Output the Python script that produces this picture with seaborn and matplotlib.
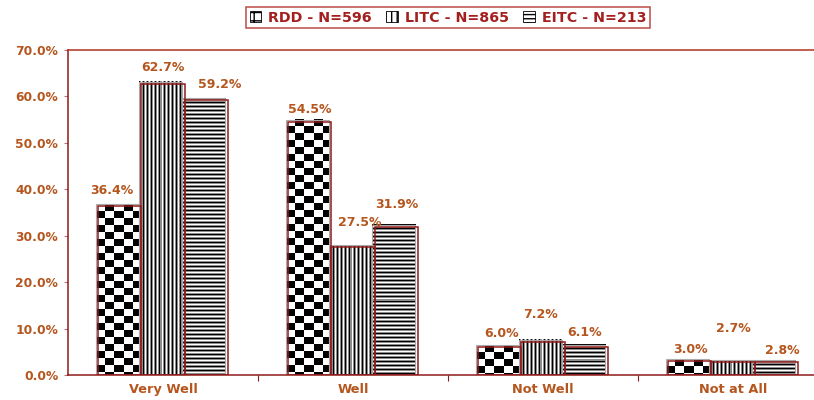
import numpy as np
import pandas as pd
import seaborn as sns
import matplotlib.pyplot as plt
from matplotlib.patches import Patch, Rectangle

categories = ["Very Well", "Well", "Not Well", "Not at All"]
groups = ["RDD - N=596", "LITC - N=865", "EITC - N=213"]
rdd = [36.4, 54.5, 6.0, 3.0]
litc = [62.7, 27.5, 7.2, 2.7]
eitc = [59.2, 31.9, 6.1, 2.8]
yticks = [0, 10, 20, 30, 40, 50, 60, 70]

# label nudges in pixels (x shift, lift above bar top) as excel placed them
lab_dx = [[-8, 0, 2, 1], [0, 7, -2, 0], [14, 1, -2, 6]]
lab_lift = [[16, 12, 14, 12], [16, 25, 27, 34], [16, 22, 14, 12]]

ORANGE = '#B5561E'
DARKRED = '#8E1B1B'
LEGRED = '#A3201F'

df = pd.DataFrame({
    'cat': categories * 3,
    'grp': np.repeat(groups, 4),
    'val': rdd + litc + eitc,
})

sns.set_style('white')
plt.rcParams['font.family'] = 'DejaVu Sans'

fig = plt.figure(figsize=(8.14, 4.0), dpi=100)
ax = fig.add_axes([68/814, 25/400, 760/814, 325/400])
sns.barplot(data=df, x='cat', y='val', hue='grp', order=categories, hue_order=groups,
            palette=['white']*3, width=0.68, edgecolor=DARKRED, linewidth=1.1,
            errorbar=None, legend=False, ax=ax)
ax.set_xlim(-0.5, 3.5)
ax.set_ylim(0, 70)


# pixel textures: checker, vertical stripes, horizontal stripes
def checker(h, w):
    yy, xx = np.mgrid[0:h, 0:w]
    return ((xx // 9 + yy // 7 + 1) % 2).astype(float)

def vstripes(h, w):
    row = np.array([0.0, 0.55, 1.0, 0.55])[np.arange(w) % 4]
    return np.tile(row, (h, 1))

def hstripes(h, w):
    col = np.array([0.0, 0.55, 1.0, 0.55])[np.arange(h) % 4]
    return np.tile(col[:, None], (1, w))

makers = [checker, vstripes, hstripes]
inv = ax.transData.inverted()

for i, cont in enumerate(ax.containers):
    for j, bar in enumerate(cont):
        x0, w, h = bar.get_x(), bar.get_width(), bar.get_height()
        (px0, py0), (px1, py1) = ax.transData.transform([(x0, 0), (x0 + w, h)])
        px0 -= 2.5
        px1 -= 2.5
        py1 += 2
        nw, nh = int(round(px1 - px0)), int(round(py1 - py0))
        tex = makers[i](nh, nw)
        (dx0, dy0), (dx1, dy1) = inv.transform([(px0, py0), (px1, py1)])
        ax.imshow(tex, cmap='gray', vmin=0, vmax=1, extent=(dx0, dx1, dy0, dy1),
                  aspect='auto', interpolation='nearest', zorder=1)
        ax.add_patch(Rectangle((dx0, dy0), dx1 - dx0, dy1 - dy0, fill=False,
                               edgecolor='#AAAAAA', lw=0.8, zorder=1.5))
        bar.set_facecolor('none')
        bar.set_zorder(3)
        ax.annotate(f'{h:.1f}%', (x0 + w/2, h), xytext=(lab_dx[i][j], lab_lift[i][j]),
                    textcoords='offset pixels', ha='center', va='center',
                    color=ORANGE, fontweight='bold', fontsize=9)

ax.set_xlim(-0.5, 3.5)
ax.set_ylim(0, 70)

ax.set_yticks(yticks)
ax.set_yticklabels([f'{v:.1f}%' for v in yticks], fontweight='bold', fontsize=8.8)
ax.set_xticks(range(len(categories)))
ax.set_xticklabels(categories, fontweight='bold', fontsize=9.3)
ax.set_xticks([0.5, 1.5, 2.5], minor=True)
ax.set_xlabel('')
ax.set_ylabel('')

ax.tick_params(axis='y', left=True, direction='out', length=3, width=0.8,
               color='#C07070', pad=4, labelcolor=ORANGE)
ax.tick_params(axis='x', which='major', bottom=True, length=0, pad=6, labelcolor=ORANGE)
ax.tick_params(axis='x', which='minor', bottom=True, direction='out', length=4,
               width=0.8, color=DARKRED)

for s in ['left', 'bottom']:
    ax.spines[s].set_color(DARKRED)
    ax.spines[s].set_linewidth(1.1)
ax.spines['top'].set_color('#B2321F')
ax.spines['top'].set_linewidth(1.1)
ax.spines['right'].set_visible(False)

handles = [Patch(facecolor='white', edgecolor='black', hatch=ht, lw=0.6)
           for ht in ['++', '|||', '----']]
leg = fig.legend(handles, groups, loc='center', bbox_to_anchor=(448/814, 1 - 17.5/400),
                 ncol=3, frameon=True, fancybox=False, edgecolor='#B0302A',
                 handlelength=0.8, handleheight=0.7, handletextpad=0.5,
                 columnspacing=1.0, borderpad=0.25, borderaxespad=0,
                 prop={'weight': 'bold', 'size': 10.3})
leg.get_frame().set_linewidth(1.2)
for t in leg.get_texts():
    t.set_color(LEGRED)

fig.savefig('out.png', dpi=100)
